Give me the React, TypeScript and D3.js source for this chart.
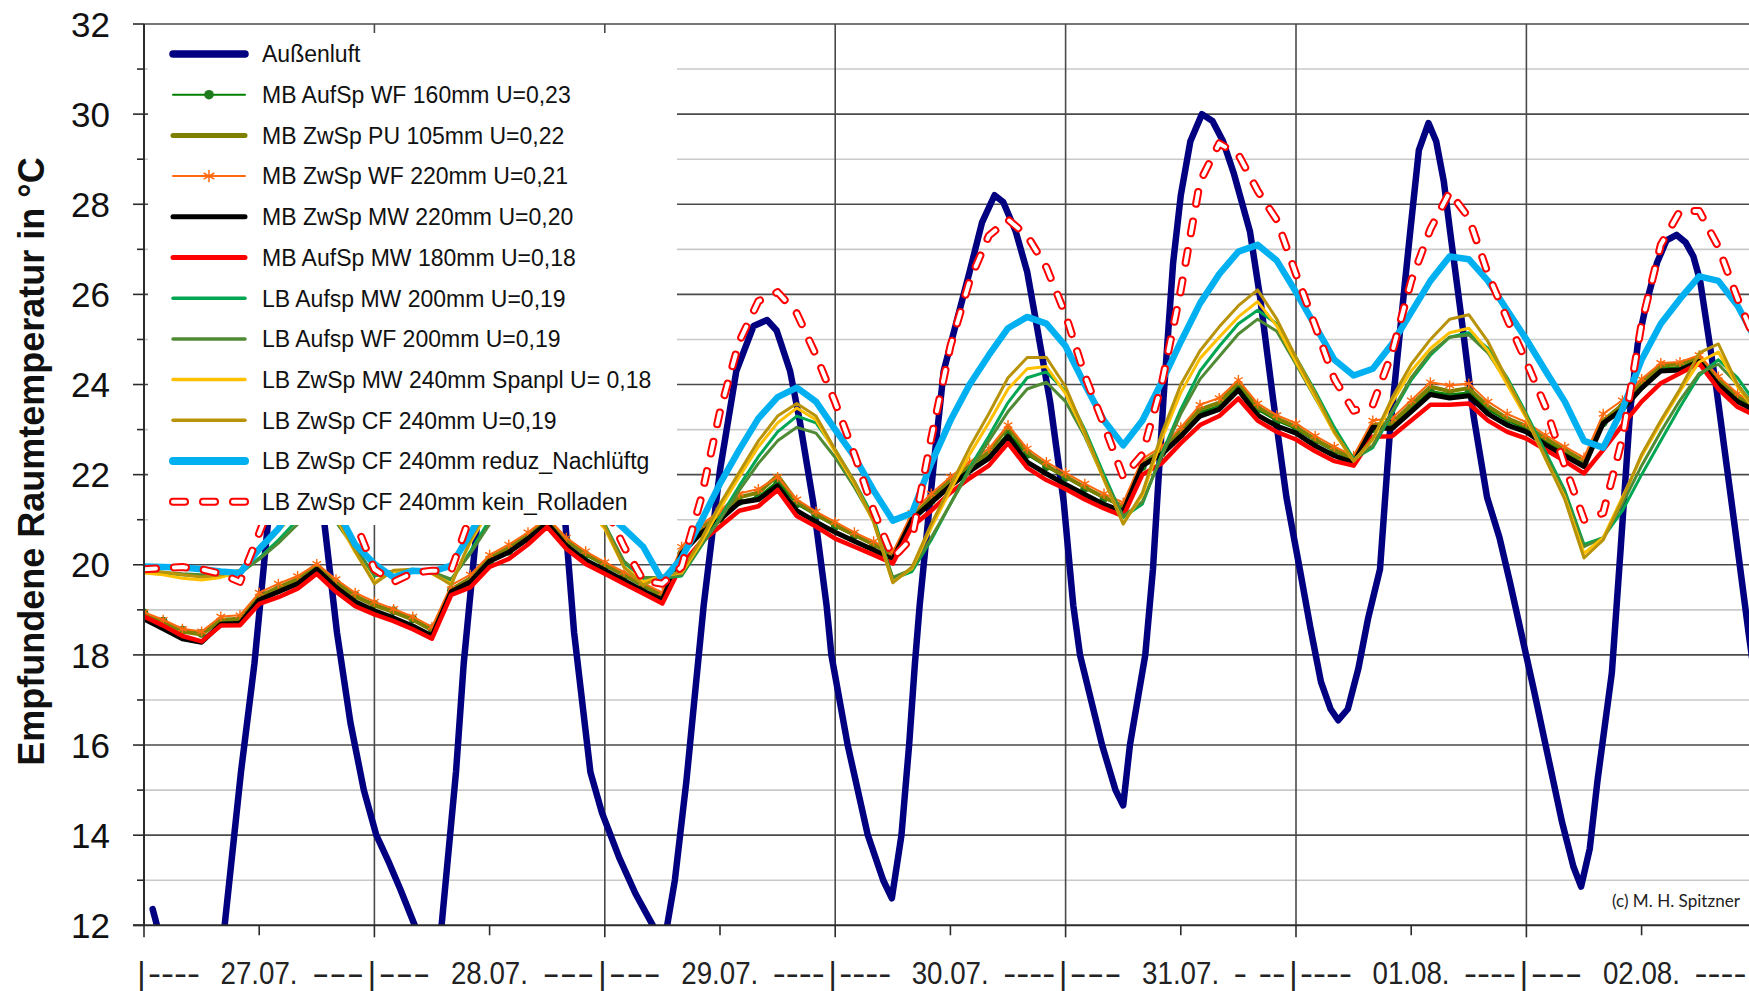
import React from 'react';
import * as d3 from 'd3';

const W = 1749;
const H = 991;

// Hours since 27.07. 00:00. Indoor series are sampled every 2 h.
const SAMPLE_HOURS = d3.range(0, 169, 2);

const DAY_LABELS = ['27.07.', '28.07.', '29.07.', '30.07.', '31.07.', '01.08.', '02.08.'];
const DAY_LEAD = ['----', '---', '---', '----', '---', '----', '---'];
const DAY_TRAIL = ['---', '---', '----', '----', '- --', '----', '----'];
const Y_TICKS = d3.range(12, 33, 1);

// Outdoor air [hour, °C]
const AUSSENLUFT: [number, number][] = [
  [0.9, 12.36], [1.6, 11.8], [3.5, 10.7], [5.5, 10.0], [7.0, 10.6], [8.4, 12.0], [10.1, 15.4], [11.5, 17.8],
  [12.9, 20.9], [14.5, 22.8], [16.0, 23.4], [17.5, 22.6], [18.8, 20.9], [20.1, 18.5], [21.5, 16.5], [22.9, 15.0],
  [24.2, 14.0], [25.5, 13.4], [26.7, 12.8], [28.2, 12.0], [29.6, 11.2], [31.0, 12.0], [32.5, 15.4], [33.3, 17.8],
  [34.7, 20.9], [36.5, 23.3], [38.5, 24.2], [40.5, 23.8], [42.5, 22.3], [43.9, 20.9], [44.8, 18.5], [46.5, 15.4],
  [47.7, 14.5], [49.5, 13.5], [51.2, 12.7], [53.0, 12.0], [53.8, 11.6], [54.5, 12.0], [55.3, 13.0], [56.5, 15.2],
  [58.3, 19.1], [60.0, 22.1], [61.7, 24.3], [63.5, 25.3], [64.9, 25.43], [65.9, 25.2], [67.3, 24.3], [68.3, 23.2],
  [69.7, 21.4], [71.1, 19.1], [71.6, 18.0], [73.3, 16.0], [75.4, 14.0], [77.0, 13.0], [77.9, 12.6], [78.9, 14.0],
  [79.7, 16.0], [80.3, 17.8], [80.8, 19.1], [82.2, 22.1], [83.3, 24.3], [84.65, 25.4], [86.0, 26.5], [87.3, 27.6],
  [88.6, 28.2], [89.5, 28.05], [90.8, 27.4], [92.0, 26.5], [93.0, 25.3], [94.4, 23.6], [95.8, 21.4], [96.8, 19.1],
  [97.5, 18.0], [99.8, 16.0], [101.2, 15.0], [102.0, 14.66], [102.7, 16.0], [104.3, 18.0], [105.1, 19.9], [106.2, 23.7],
  [107.2, 26.7], [108.0, 28.2], [109.0, 29.4], [110.2, 30.0], [111.3, 29.85], [112.4, 29.4], [113.5, 28.7], [115.2, 27.4],
  [116.25, 25.95], [117.6, 23.7], [119.0, 21.5], [120.4, 19.9], [121.5, 18.6], [122.6, 17.4], [123.6, 16.8], [124.4, 16.55],
  [125.4, 16.8], [126.5, 17.7], [127.5, 18.8], [128.75, 19.9], [129.8, 23.0], [131.2, 25.95], [131.9, 27.4], [132.8, 29.2],
  [133.8, 29.8], [134.6, 29.4], [135.4, 28.5], [136.05, 27.4], [137.4, 25.2], [138.5, 23.3], [139.9, 21.5], [141.2, 20.6],
  [142.3, 19.6], [144.8, 17.2], [146.3, 15.7], [147.7, 14.3], [148.9, 13.3], [149.7, 12.86], [150.6, 13.7], [151.4, 15.2],
  [152.9, 17.6], [153.8, 20.3], [154.8, 23.4], [155.6, 24.9], [156.5, 25.8], [157.6, 26.7], [158.6, 27.2], [159.65, 27.32],
  [160.6, 27.15], [161.4, 26.84], [162.1, 26.3], [163.8, 23.9], [165.55, 21.1], [167.2, 18.4], [168.0, 17.2],
];

// Indoor temperatures, one row per day (00:00 ... 22:00), last value 168 h
const MB_AUFSP_WF_160 = [
  18.93, 18.75, 18.55, 18.48, 18.75, 18.78, 19.25, 19.45, 19.62, 19.92, 19.60, 19.32,
  19.12, 18.98, 18.80, 18.58, 19.42, 19.62, 20.05, 20.30, 20.58, 20.95, 20.52, 20.22,
  19.98, 19.76, 19.52, 19.30, 20.25, 20.72, 21.02, 21.40, 21.50, 21.85, 21.35, 21.10,
  20.86, 20.65, 20.44, 20.20, 21.00, 21.42, 21.80, 22.12, 22.42, 22.92, 22.45, 22.18,
  21.94, 21.70, 21.48, 21.28, 22.18, 22.48, 22.90, 23.38, 23.52, 23.95, 23.45, 23.20,
  23.02, 22.75, 22.52, 22.32, 23.02, 23.08, 23.48, 23.85, 23.78, 23.82, 23.45, 23.20,
  23.02, 22.75, 22.50, 22.25, 23.15, 23.50, 23.98, 24.35, 24.38, 24.55, 24.08, 23.70,
  23.45,
];
const MB_ZWSP_PU_105 = [
  18.90, 18.72, 18.52, 18.45, 18.78, 18.80, 19.30, 19.50, 19.68, 20.00, 19.62, 19.30,
  19.10, 18.95, 18.78, 18.55, 19.45, 19.70, 20.15, 20.38, 20.66, 21.02, 20.55, 20.25,
  20.00, 19.78, 19.55, 19.32, 20.30, 20.80, 21.12, 21.50, 21.60, 21.98, 21.40, 21.12,
  20.88, 20.66, 20.45, 20.22, 21.05, 21.50, 21.88, 22.20, 22.50, 23.07, 22.50, 22.20,
  21.96, 21.72, 21.50, 21.30, 22.25, 22.55, 22.98, 23.45, 23.60, 24.06, 23.50, 23.25,
  23.06, 22.78, 22.55, 22.36, 23.10, 23.15, 23.55, 23.95, 23.85, 23.92, 23.52, 23.25,
  23.08, 22.80, 22.55, 22.30, 23.20, 23.55, 24.05, 24.42, 24.45, 24.62, 24.12, 23.75,
  23.50,
];
const MB_ZWSP_WF_220 = [
  18.95, 18.78, 18.58, 18.52, 18.85, 18.88, 19.38, 19.58, 19.75, 20.02, 19.68, 19.38,
  19.18, 19.02, 18.85, 18.62, 19.55, 19.78, 20.22, 20.45, 20.72, 21.05, 20.60, 20.30,
  20.06, 19.84, 19.60, 19.38, 20.40, 20.88, 21.20, 21.58, 21.68, 21.95, 21.45, 21.18,
  20.95, 20.72, 20.52, 20.28, 21.15, 21.58, 21.95, 22.28, 22.58, 23.10, 22.58, 22.28,
  22.04, 21.80, 21.58, 21.38, 22.35, 22.62, 23.05, 23.55, 23.70, 24.10, 23.58, 23.32,
  23.14, 22.86, 22.62, 22.42, 23.20, 23.25, 23.65, 24.05, 23.98, 24.02, 23.62, 23.35,
  23.16, 22.88, 22.62, 22.38, 23.35, 23.65, 24.12, 24.48, 24.50, 24.65, 24.18, 23.80,
  23.55,
];
const MB_ZWSP_MW_220 = [
  18.80, 18.58, 18.36, 18.28, 18.68, 18.70, 19.22, 19.40, 19.58, 19.90, 19.50, 19.18,
  18.98, 18.82, 18.64, 18.42, 19.40, 19.62, 20.08, 20.28, 20.58, 20.92, 20.42, 20.10,
  19.88, 19.65, 19.42, 19.22, 20.25, 20.70, 21.00, 21.38, 21.45, 21.75, 21.20, 20.95,
  20.72, 20.52, 20.33, 20.12, 21.00, 21.38, 21.75, 22.08, 22.36, 22.85, 22.28, 22.02,
  21.78, 21.56, 21.34, 21.18, 22.20, 22.45, 22.85, 23.30, 23.45, 23.88, 23.32, 23.08,
  22.92, 22.64, 22.42, 22.26, 23.05, 23.02, 23.40, 23.78, 23.70, 23.75, 23.35, 23.10,
  22.95, 22.66, 22.42, 22.18, 23.14, 23.45, 23.92, 24.30, 24.32, 24.51, 24.00, 23.62,
  23.40,
];
const MB_AUFSP_MW_180 = [
  18.85, 18.65, 18.42, 18.30, 18.65, 18.66, 19.13, 19.28, 19.47, 19.80, 19.40, 19.08,
  18.90, 18.75, 18.57, 18.36, 19.33, 19.50, 19.95, 20.13, 20.45, 20.84, 20.35, 20.02,
  19.80, 19.58, 19.36, 19.14, 20.00, 20.50, 20.85, 21.20, 21.30, 21.66, 21.08, 20.85,
  20.58, 20.40, 20.22, 20.03, 20.85, 21.20, 21.60, 21.92, 22.20, 22.70, 22.15, 21.88,
  21.68, 21.45, 21.25, 21.08, 22.00, 22.25, 22.70, 23.10, 23.30, 23.69, 23.20, 22.95,
  22.78, 22.52, 22.30, 22.20, 22.84, 22.85, 23.20, 23.55, 23.55, 23.58, 23.20, 22.95,
  22.80, 22.55, 22.30, 22.03, 22.55, 23.10, 23.62, 24.03, 24.25, 24.47, 23.90, 23.50,
  23.30,
];
const LB_AUFSP_MW_200 = [
  19.85, 19.82, 19.78, 19.75, 19.75, 19.80, 20.15, 20.55, 21.00, 21.40, 21.05, 20.40,
  19.75, 19.85, 19.88, 19.82, 19.65, 20.30, 21.00, 21.60, 22.00, 22.15, 21.80, 21.25,
  20.90, 20.05, 19.70, 19.70, 19.75, 20.40, 21.05, 21.75, 22.40, 22.95, 23.30, 23.15,
  22.55, 21.85, 21.05, 19.68, 19.85, 20.55, 21.35, 22.15, 22.85, 23.60, 24.15, 24.28,
  23.85, 23.00, 22.00, 21.05, 21.35, 22.45, 23.45, 24.30, 24.85, 25.35, 25.65, 25.35,
  24.60, 23.85, 23.05, 22.35, 22.60, 23.35, 24.10, 24.65, 25.05, 25.15, 24.80, 24.15,
  23.35, 22.50, 21.65, 20.45, 20.60, 21.20, 22.00, 22.75, 23.50, 24.20, 24.55, 24.15,
  23.55,
];
const LB_AUFSP_WF_200 = [
  19.86, 19.83, 19.80, 19.78, 19.78, 19.82, 20.12, 20.48, 20.90, 21.25, 20.95, 20.35,
  19.78, 19.86, 19.88, 19.84, 19.68, 20.25, 20.90, 21.45, 21.85, 22.00, 21.70, 21.20,
  20.88, 20.08, 19.72, 19.72, 19.78, 20.42, 21.00, 21.65, 22.25, 22.75, 23.05, 22.92,
  22.38, 21.72, 20.98, 19.72, 19.90, 20.60, 21.35, 22.10, 22.75, 23.40, 23.90, 24.05,
  23.62, 22.85, 21.90, 21.08, 21.40, 22.40, 23.35, 24.12, 24.62, 25.12, 25.45, 25.18,
  24.45, 23.70, 22.95, 22.32, 22.65, 23.40, 24.15, 24.70, 25.05, 25.10, 24.70, 24.05,
  23.28, 22.42, 21.58, 20.40, 20.60, 21.35, 22.20, 22.95, 23.65, 24.25, 24.45, 24.00,
  23.45,
];
const LB_ZWSP_MW_240_SPANPL = [
  19.82, 19.78, 19.70, 19.66, 19.72, 19.85, 20.30, 20.75, 21.22, 21.60, 21.05, 20.28,
  19.62, 19.85, 19.88, 19.80, 19.58, 20.50, 21.22, 21.80, 22.20, 22.30, 21.85, 21.28,
  20.80, 19.95, 19.62, 19.75, 19.82, 20.48, 21.25, 21.95, 22.62, 23.15, 23.48, 23.22,
  22.50, 21.80, 20.95, 19.62, 19.92, 20.82, 21.65, 22.45, 23.15, 23.90, 24.35, 24.40,
  23.80, 22.90, 21.88, 20.92, 21.55, 22.78, 23.82, 24.58, 25.05, 25.50, 25.84, 25.30,
  24.50, 23.72, 22.92, 22.30, 22.78, 23.60, 24.30, 24.80, 25.15, 25.25, 24.75, 24.00,
  23.25, 22.35, 21.50, 20.25, 20.60, 21.50, 22.40, 23.15, 23.85, 24.50, 24.72, 23.95,
  23.38,
];
const LB_ZWSP_CF_240 = [
  19.87, 19.84, 19.78, 19.73, 19.78, 19.88, 20.35, 20.80, 21.30, 21.70, 21.10, 20.30,
  19.58, 19.88, 19.90, 19.82, 19.55, 20.55, 21.30, 21.90, 22.30, 22.40, 21.90, 21.30,
  20.85, 19.95, 19.55, 19.75, 19.85, 20.55, 21.35, 22.05, 22.75, 23.30, 23.58, 23.30,
  22.55, 21.85, 20.95, 19.60, 19.95, 20.90, 21.75, 22.60, 23.35, 24.15, 24.60, 24.60,
  23.95, 22.95, 21.90, 20.90, 21.60, 22.90, 24.00, 24.75, 25.28, 25.75, 26.10, 25.45,
  24.60, 23.80, 22.95, 22.30, 22.80, 23.70, 24.45, 25.00, 25.45, 25.55, 24.95, 24.10,
  23.30, 22.35, 21.45, 20.15, 20.55, 21.45, 22.45, 23.20, 23.90, 24.70, 24.90, 24.00,
  23.40,
];
const LB_ZWSP_CF_240_REDUZ = [
  19.96, 19.95, 19.94, 19.90, 19.85, 19.82, 20.35, 20.80, 21.40, 21.80, 21.25, 20.45,
  20.02, 19.72, 19.87, 19.85, 19.98, 20.70, 21.40, 22.00, 22.40, 22.50, 22.10, 21.60,
  21.20, 20.80, 20.40, 19.65, 20.15, 20.95, 21.80, 22.55, 23.25, 23.72, 23.93, 23.62,
  23.00, 22.40, 21.65, 20.98, 21.15, 22.25, 23.20, 24.00, 24.65, 25.25, 25.50, 25.35,
  24.85, 24.00, 23.20, 22.65, 23.20, 24.05, 24.95, 25.80, 26.45, 26.95, 27.10, 26.75,
  26.05, 25.30, 24.55, 24.20, 24.35, 24.90, 25.60, 26.30, 26.84, 26.78, 26.30, 25.65,
  25.00, 24.30, 23.62, 22.75, 22.60, 23.45, 24.55, 25.35, 25.90, 26.40, 26.30, 25.75,
  24.95,
];
const LB_ZWSP_CF_240_KEIN_ROLLADEN = [
  19.90, 19.93, 19.95, 19.90, 19.80, 19.62, 20.70, 21.80, 22.90, 23.40, 22.50, 20.95,
  19.90, 19.62, 19.82, 19.87, 19.87, 21.10, 22.60, 23.80, 24.40, 24.30, 23.50, 22.40,
  21.30, 20.40, 19.65, 19.58, 19.95, 21.45, 23.40, 24.95, 25.85, 26.05, 25.58, 24.65,
  23.60, 22.45, 21.20, 20.15, 20.60, 22.80, 24.85, 26.30, 27.30, 27.66, 27.30, 26.60,
  25.55, 24.20, 23.10, 21.95, 22.45, 24.00, 26.10, 28.50, 29.35, 29.10, 28.30, 27.65,
  26.45, 25.30, 24.12, 23.42, 23.55, 24.70, 26.30, 27.45, 28.27, 27.70, 26.45, 25.45,
  24.50, 23.50, 22.20, 21.00, 21.15, 22.80, 25.35, 27.10, 27.85, 27.85, 27.05, 25.90,
  24.90,
];

type Marker = 'dot' | 'star' | undefined;
interface Series {
  name: string;
  color: string;
  width: number;
  legendWidth: number;
  points: [number, number][];
  marker?: Marker;
  dashed?: boolean;
}

const sampled = (vals: number[]): [number, number][] => SAMPLE_HOURS.map((h, i) => [h, vals[i]]);

const SERIES: Series[] = [
  { name: 'Außenluft', color: '#000080', width: 6.5, legendWidth: 7.5, points: AUSSENLUFT },
  { name: 'MB AufSp WF 160mm U=0,23', color: '#008000', width: 2.5, legendWidth: 2, points: sampled(MB_AUFSP_WF_160), marker: 'dot' },
  { name: 'MB ZwSp PU 105mm U=0,22', color: '#808000', width: 4, legendWidth: 5, points: sampled(MB_ZWSP_PU_105) },
  { name: 'MB ZwSp WF 220mm U=0,21', color: '#FF6A10', width: 2, legendWidth: 2, points: sampled(MB_ZWSP_WF_220), marker: 'star' },
  { name: 'MB ZwSp MW 220mm U=0,20', color: '#000000', width: 5, legendWidth: 5, points: sampled(MB_ZWSP_MW_220) },
  { name: 'MB AufSp MW 180mm U=0,18', color: '#FF0000', width: 4.5, legendWidth: 5, points: sampled(MB_AUFSP_MW_180) },
  { name: 'LB Aufsp MW 200mm U=0,19', color: '#00A651', width: 3, legendWidth: 3.5, points: sampled(LB_AUFSP_MW_200) },
  { name: 'LB Aufsp WF 200mm U=0,19', color: '#4F8A35', width: 3, legendWidth: 3.5, points: sampled(LB_AUFSP_WF_200) },
  { name: 'LB ZwSp MW 240mm Spanpl U= 0,18', color: '#FFC000', width: 3, legendWidth: 3.5, points: sampled(LB_ZWSP_MW_240_SPANPL) },
  { name: 'LB ZwSp CF 240mm U=0,19', color: '#B8930A', width: 3, legendWidth: 3.5, points: sampled(LB_ZWSP_CF_240) },
  { name: 'LB ZwSp CF 240mm reduz_Nachlüftg', color: '#00B0F0', width: 6.5, legendWidth: 8, points: sampled(LB_ZWSP_CF_240_REDUZ) },
  { name: 'LB ZwSp CF 240mm kein_Rolladen', color: '#FF0000', width: 8, legendWidth: 8, points: sampled(LB_ZWSP_CF_240_KEIN_ROLLADEN), dashed: true },
];

const PLOT = { left: 144, top: 24, bottom: 925.3, right: 144 + 168 * 9.6 };
const FONT = "'Liberation Sans', Arial, Helvetica, sans-serif";
const MAJOR = '#4a4a4a';
const MINOR = '#c9c9c9';
const AXIS = '#2b2b2b';
const DOT_FILL = '#1E7B1E';
const STAR_PATH = (s: number) =>
  `M0,${-s}V${s}M${-s * 0.87},${-s * 0.5}L${s * 0.87},${s * 0.5}M${-s * 0.87},${s * 0.5}L${s * 0.87},${-s * 0.5}`;

export default function App() {
  const x = d3.scaleLinear().domain([0, 168]).range([PLOT.left, PLOT.right]);
  const y = d3.scaleLinear().domain([12, 32]).range([PLOT.bottom, PLOT.top]);
  const line = d3
    .line<[number, number]>()
    .x((d) => x(d[0]))
    .y((d) => y(d[1]));

  const dayTicks = d3.range(0, 169, 24);
  const midTicks = d3.range(12, 168, 24);

  const legend = { x0: 173, x1: 245, tx: 262, y0: 54, dy: 40.7 };

  return (
    <svg
      width={W}
      height={H}
      viewBox={`0 0 ${W} ${H}`}
      style={{ position: 'absolute', left: 0, top: 0, background: '#fff' }}
    >
      <defs>
        <clipPath id="plotArea">
          <rect x={PLOT.left} y={PLOT.top - 2} width={PLOT.right - PLOT.left} height={PLOT.bottom - PLOT.top + 2} />
        </clipPath>
      </defs>
      <rect x={0} y={0} width={W} height={H} fill="#fff" />

      {/* horizontal grid */}
      {Y_TICKS.filter((t) => t > 12).map((t) => (
        <line
          key={`gy${t}`}
          x1={PLOT.left}
          x2={PLOT.right}
          y1={y(t)}
          y2={y(t)}
          stroke={t % 2 === 0 ? MAJOR : MINOR}
          strokeWidth={1.6}
        />
      ))}
      {/* vertical grid at day boundaries */}
      {dayTicks.filter((h) => h > 0).map((h) => (
        <line key={`gx${h}`} x1={x(h)} x2={x(h)} y1={PLOT.top} y2={PLOT.bottom} stroke={MAJOR} strokeWidth={1.6} />
      ))}

      {/* series */}
      <g clipPath="url(#plotArea)">
        {SERIES.map((s) => {
          const d = line(s.points) || '';
          return (
            <g key={s.name}>
              <path
                d={d}
                fill="none"
                stroke={s.color}
                strokeWidth={s.width}
                strokeLinejoin="round"
                strokeLinecap="round"
                strokeDasharray={s.dashed ? '12 18' : undefined}
              />
              {s.dashed && (
                <path
                  d={d}
                  fill="none"
                  stroke="#fff"
                  strokeWidth={4}
                  strokeLinejoin="round"
                  strokeLinecap="round"
                  strokeDasharray="12 18"
                />
              )}
              {s.marker === 'dot' &&
                s.points.map((p, i) => <circle key={i} cx={x(p[0])} cy={y(p[1])} r={4.4} fill={DOT_FILL} />)}
              {s.marker === 'star' &&
                s.points.map((p, i) => (
                  <path
                    key={i}
                    d={STAR_PATH(5)}
                    transform={`translate(${x(p[0])},${y(p[1])})`}
                    stroke={s.color}
                    strokeWidth={1.4}
                    fill="none"
                  />
                ))}
            </g>
          );
        })}
      </g>

      {/* legend */}
      <rect x={148} y={33} width={677 - 148} height={525 - 33} fill="#fff" />
      {SERIES.map((s, i) => {
        const cy = legend.y0 + i * legend.dy;
        const mid = (legend.x0 + legend.x1) / 2;
        return (
          <g key={`lg${i}`}>
            <line
              x1={legend.x0}
              x2={legend.x1}
              y1={cy}
              y2={cy}
              stroke={s.color}
              strokeWidth={s.legendWidth}
              strokeLinecap="round"
              strokeDasharray={s.dashed ? '12 18' : undefined}
            />
            {s.dashed && (
              <line
                x1={legend.x0}
                x2={legend.x1}
                y1={cy}
                y2={cy}
                stroke="#fff"
                strokeWidth={4}
                strokeLinecap="round"
                strokeDasharray="12 18"
              />
            )}
            {s.marker === 'dot' && <circle cx={mid} cy={cy} r={4.8} fill={DOT_FILL} />}
            {s.marker === 'star' && (
              <path d={STAR_PATH(6.2)} transform={`translate(${mid},${cy})`} stroke={s.color} strokeWidth={1.5} fill="none" />
            )}
            <text x={legend.tx} y={cy + 8.3} fontFamily={FONT} fontSize={23} fill="#111">
              {s.name}
            </text>
          </g>
        );
      })}

      {/* axes */}
      <line x1={PLOT.left} x2={PLOT.left} y1={PLOT.top} y2={PLOT.bottom} stroke={AXIS} strokeWidth={2} />
      <line x1={PLOT.left - 11} x2={PLOT.right} y1={PLOT.bottom} y2={PLOT.bottom} stroke={AXIS} strokeWidth={2} />
      {Y_TICKS.map((t) => (
        <line
          key={`ty${t}`}
          x1={t % 2 === 0 ? PLOT.left - 11 : PLOT.left - 7}
          x2={PLOT.left}
          y1={y(t)}
          y2={y(t)}
          stroke={AXIS}
          strokeWidth={1.6}
        />
      ))}
      {Y_TICKS.filter((t) => t % 2 === 0).map((t) => (
        <text key={`ly${t}`} x={110} y={y(t)} dy="0.36em" textAnchor="end" fontFamily={FONT} fontSize={35} fill="#111">
          {t}
        </text>
      ))}
      {dayTicks.map((h) => (
        <line key={`tx${h}`} x1={x(h)} x2={x(h)} y1={PLOT.bottom} y2={PLOT.bottom + 12} stroke={AXIS} strokeWidth={1.6} />
      ))}
      {midTicks.map((h) => (
        <line key={`tm${h}`} x1={x(h)} x2={x(h)} y1={PLOT.bottom} y2={PLOT.bottom + 10} stroke={AXIS} strokeWidth={1.6} />
      ))}

      {/* day labels */}
      {DAY_LABELS.map((lab, d) => {
        const b = x(d * 24);
        const base = 983.5;
        return (
          <g key={`dl${d}`} fontFamily={FONT} fontSize={32} fill="#222">
            <text x={b - 2.5} y={base} textAnchor="middle">|</text>
            <text x={b + 4} y={base} textLength={52} lengthAdjust="spacingAndGlyphs">{DAY_LEAD[d]}</text>
            <text x={b + 115} y={base} textAnchor="middle" textLength={77} lengthAdjust="spacingAndGlyphs">
              {lab}
            </text>
            <text x={b + 168} y={base} textLength={52} lengthAdjust="spacingAndGlyphs">{DAY_TRAIL[d]}</text>
          </g>
        );
      })}

      {/* axis title */}
      <text
        transform="translate(44,461.5) rotate(-90)"
        textAnchor="middle"
        fontFamily={FONT}
        fontWeight="bold"
        fontSize={36}
        fill="#111"
      >
        Empfundene Raumtemperatur in °C
      </text>

      <text x={1612} y={907} fontFamily="Lato, 'Open Sans', sans-serif" fontSize={18} fill="#222" textLength={128} lengthAdjust="spacingAndGlyphs">
        (c) M. H. Spitzner
      </text>
    </svg>
  );
}
